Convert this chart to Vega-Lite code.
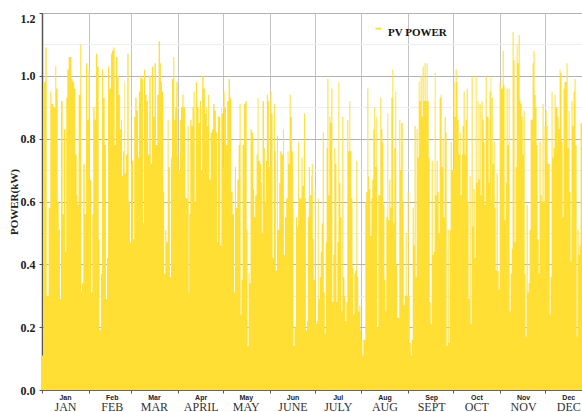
{
"$schema":"https://vega.github.io/schema/vega-lite/v6.json",
"width":550,"height":377,
"padding":{"left":8,"top":12,"right":0,"bottom":0},
"autosize":{"type":"pad"},
"config":{"view":{"stroke":"#8a8a8a","strokeWidth":1},"background":"#ffffff"},
"data":{"values":[
{"d":0,"p":0.11},{"d":1.1,"p":0.98},{"d":2.2,"p":1.09},{"d":3.1,"p":0.30},{"d":4.4,"p":0.58},{"d":5.5,"p":0.95},{"d":6.2,"p":0.91},{"d":7.5,"p":0.90},{"d":8.8,"p":1.03},{"d":9.5,"p":0.96},{"d":10.4,"p":0.60},{"d":11.1,"p":0.51},{"d":11.9,"p":0.29},{"d":12.6,"p":0.92},{"d":13.7,"p":0.56},{"d":14.6,"p":0.83},{"d":15.5,"p":0.44},{"d":16.1,"p":0.93},{"d":16.8,"p":1.02},{"d":17.7,"p":1.06},{"d":18.8,"p":1.06},{"d":19.5,"p":0.99},{"d":20.3,"p":0.98},{"d":21.4,"p":0.96},{"d":22.1,"p":0.75},{"d":23.0,"p":0.62},{"d":23.6,"p":0.59},{"d":24.3,"p":0.94},{"d":25.4,"p":1.10},{"d":26.1,"p":0.31},{"d":26.5,"p":0.34},{"d":27.4,"p":0.72},{"d":28.3,"p":0.56},{"d":29.2,"p":1.04},{"d":30.1,"p":0.86},{"d":30.9,"p":1.02},{"d":31.8,"p":0.67},{"d":32.7,"p":0.31},{"d":33.4,"p":0.56},{"d":34.0,"p":0.90},{"d":34.9,"p":0.86},{"d":35.8,"p":1.07},{"d":36.7,"p":1.03},{"d":37.6,"p":0.48},{"d":38.2,"p":0.19},{"d":39.1,"p":0.37},{"d":39.8,"p":1.02},{"d":40.5,"p":0.93},{"d":41.6,"p":0.78},{"d":42.4,"p":0.29},{"d":43.1,"p":0.42},{"d":43.8,"p":1.03},{"d":44.7,"p":0.96},{"d":45.8,"p":1.07},{"d":46.4,"p":1.08},{"d":47.3,"p":1.09},{"d":48.2,"p":0.78},{"d":48.9,"p":1.06},{"d":50.0,"p":1.00},{"d":50.8,"p":0.94},{"d":51.7,"p":0.83},{"d":52.4,"p":0.86},{"d":53.1,"p":0.68},{"d":53.7,"p":0.76},{"d":54.4,"p":0.98},{"d":54.8,"p":0.69},{"d":55.7,"p":0.75},{"d":56.6,"p":1.07},{"d":57.5,"p":0.60},{"d":58.4,"p":0.47},{"d":59.2,"p":0.72},
{"d":59.7,"p":0.73},{"d":60.4,"p":0.48},{"d":61.2,"p":0.87},{"d":61.9,"p":0.93},{"d":62.8,"p":0.89},{"d":63.7,"p":0.74},{"d":64.3,"p":0.95},{"d":65.2,"p":1.00},{"d":66.1,"p":0.99},{"d":67.0,"p":0.53},{"d":67.7,"p":1.02},{"d":68.5,"p":0.94},{"d":69.4,"p":0.92},{"d":70.3,"p":0.75},{"d":71.2,"p":1.00},{"d":72.1,"p":0.72},{"d":73.0,"p":1.03},{"d":73.9,"p":0.87},{"d":74.7,"p":1.04},{"d":75.6,"p":0.78},{"d":76.5,"p":0.94},{"d":77.4,"p":1.11},{"d":78.3,"p":1.04},{"d":78.9,"p":0.98},{"d":79.6,"p":0.95},{"d":80.5,"p":0.63},{"d":81.1,"p":0.37},{"d":81.8,"p":0.51},{"d":82.5,"p":0.47},{"d":83.4,"p":0.86},{"d":84.0,"p":0.71},{"d":84.9,"p":0.36},{"d":85.6,"p":0.74},{"d":86.2,"p":0.99},{"d":87.1,"p":1.06},{"d":87.8,"p":0.86},{"d":88.4,"p":0.90},{"d":89.1,"p":0.98},{"d":90.0,"p":0.75},{"d":90.6,"p":0.70},{"d":91.5,"p":0.86},{"d":92.2,"p":0.90},{"d":93.1,"p":0.94},{"d":93.9,"p":0.90},{"d":95.1,"p":0.61},{"d":95.7,"p":0.61},{"d":96.6,"p":0.84},{"d":97.3,"p":0.31},{"d":97.7,"p":0.56},{"d":98.4,"p":0.86},{"d":99.3,"p":0.84},{"d":99.9,"p":0.90},{"d":100.6,"p":0.95},{"d":101.3,"p":0.60},{"d":102.1,"p":0.98},{"d":103.0,"p":0.90},{"d":103.9,"p":0.85},{"d":104.8,"p":0.92},{"d":105.5,"p":0.70},{"d":106.3,"p":1.00},{"d":107.2,"p":0.96},{"d":108.1,"p":0.88},{"d":108.8,"p":0.90},{"d":109.4,"p":0.84},{"d":110.3,"p":0.94},{"d":111.0,"p":0.67},{"d":111.9,"p":0.82},{"d":112.8,"p":0.83},{"d":113.6,"p":0.91},{"d":114.5,"p":0.89},{"d":115.4,"p":0.82},{"d":116.1,"p":0.47},{"d":116.7,"p":0.87},{"d":117.6,"p":0.87},{"d":118.3,"p":0.46},{"d":119.0,"p":0.90},
{"d":119.4,"p":0.88},{"d":120.1,"p":0.71},{"d":120.5,"p":0.95},{"d":121.2,"p":0.90},{"d":122.1,"p":0.78},{"d":122.9,"p":0.92},{"d":123.8,"p":0.99},{"d":124.7,"p":0.93},{"d":125.6,"p":0.63},{"d":126.5,"p":0.56},{"d":127.4,"p":0.31},{"d":128.0,"p":0.71},{"d":128.7,"p":0.58},{"d":129.6,"p":0.67},{"d":130.5,"p":0.78},{"d":131.1,"p":0.91},{"d":131.8,"p":0.24},{"d":132.4,"p":0.35},{"d":133.1,"p":0.78},{"d":134.0,"p":0.91},{"d":134.9,"p":0.92},{"d":135.8,"p":0.51},{"d":136.4,"p":0.14},{"d":137.1,"p":0.37},{"d":137.7,"p":0.34},{"d":138.4,"p":0.83},{"d":139.3,"p":0.82},{"d":140.2,"p":0.64},{"d":140.8,"p":0.55},{"d":141.5,"p":0.62},{"d":142.4,"p":0.75},{"d":143.1,"p":0.93},{"d":143.7,"p":0.73},{"d":144.6,"p":0.72},{"d":145.3,"p":0.66},{"d":145.9,"p":0.50},{"d":146.4,"p":0.92},{"d":147.3,"p":0.77},{"d":147.9,"p":0.60},{"d":148.6,"p":0.73},{"d":149.2,"p":0.94},{"d":149.9,"p":0.92},{"d":150.6,"p":0.71},{"d":151.5,"p":0.95},{"d":152.3,"p":0.88},{"d":153.0,"p":0.42},{"d":153.9,"p":0.91},{"d":154.5,"p":0.76},{"d":155.2,"p":0.38},{"d":155.9,"p":0.81},{"d":156.5,"p":0.51},{"d":157.4,"p":0.66},{"d":158.1,"p":0.76},{"d":159.0,"p":0.75},{"d":159.9,"p":0.83},{"d":160.5,"p":0.43},{"d":161.2,"p":0.55},{"d":162.1,"p":0.61},{"d":163.0,"p":0.76},{"d":163.6,"p":0.72},{"d":164.3,"p":0.94},{"d":165.0,"p":0.87},{"d":165.8,"p":0.76},{"d":166.5,"p":0.58},{"d":166.9,"p":0.14},{"d":167.6,"p":0.20},{"d":168.5,"p":0.55},{"d":169.4,"p":0.52},{"d":170.0,"p":0.79},{"d":170.7,"p":0.61},{"d":171.6,"p":0.61},{"d":172.2,"p":0.74},{"d":172.9,"p":0.65},{"d":173.8,"p":0.88},{"d":174.5,"p":0.61},{"d":175.1,"p":0.19},{"d":175.8,"p":0.22},{"d":176.4,"p":0.55},{"d":177.1,"p":0.71},{"d":177.8,"p":0.62},{"d":178.7,"p":0.68},
{"d":179.0,"p":0.72},{"d":179.7,"p":0.48},{"d":180.3,"p":0.35},{"d":181.0,"p":0.64},{"d":181.7,"p":0.21},{"d":182.3,"p":0.22},{"d":183.0,"p":0.61},{"d":183.6,"p":0.29},{"d":184.3,"p":0.36},{"d":185.0,"p":0.44},{"d":185.6,"p":0.53},{"d":186.3,"p":0.82},{"d":187.0,"p":0.31},{"d":187.6,"p":0.18},{"d":188.3,"p":0.47},{"d":188.9,"p":0.77},{"d":189.4,"p":0.99},{"d":190.1,"p":0.62},{"d":190.7,"p":0.87},{"d":191.4,"p":0.85},{"d":192.0,"p":0.96},{"d":192.7,"p":0.28},{"d":193.4,"p":0.43},{"d":194.0,"p":0.77},{"d":194.7,"p":0.72},{"d":195.4,"p":0.28},{"d":196.0,"p":0.47},{"d":196.7,"p":0.98},{"d":197.3,"p":0.66},{"d":198.0,"p":0.55},{"d":198.7,"p":0.25},{"d":199.3,"p":0.87},{"d":200.0,"p":0.36},{"d":200.7,"p":0.30},{"d":201.3,"p":0.22},{"d":202.0,"p":0.28},{"d":202.6,"p":0.86},{"d":203.3,"p":0.76},{"d":204.0,"p":0.92},{"d":204.6,"p":0.76},{"d":205.3,"p":0.61},{"d":206.0,"p":0.39},{"d":206.6,"p":0.24},{"d":207.3,"p":0.37},{"d":207.9,"p":0.38},{"d":208.6,"p":0.73},{"d":209.3,"p":0.36},{"d":209.9,"p":0.25},{"d":210.6,"p":0.27},{"d":211.3,"p":0.19},{"d":211.9,"p":0.16},{"d":212.6,"p":0.11},{"d":213.3,"p":0.16},{"d":213.9,"p":0.16},{"d":214.6,"p":0.60},{"d":215.2,"p":0.63},{"d":215.9,"p":0.96},{"d":216.6,"p":0.68},{"d":217.2,"p":0.64},{"d":217.9,"p":0.49},{"d":218.6,"p":0.61},{"d":219.2,"p":0.67},{"d":219.9,"p":0.83},{"d":220.5,"p":0.90},{"d":221.2,"p":0.71},{"d":221.9,"p":0.87},{"d":222.5,"p":0.20},{"d":223.2,"p":0.62},{"d":223.9,"p":0.62},{"d":224.5,"p":0.93},{"d":225.2,"p":0.83},{"d":225.9,"p":0.79},{"d":226.5,"p":0.59},{"d":227.2,"p":0.35},{"d":227.8,"p":0.25},{"d":228.5,"p":0.55},{"d":229.2,"p":0.88},{"d":229.8,"p":0.54},{"d":230.5,"p":0.67},{"d":231.2,"p":0.58},{"d":231.8,"p":0.93},{"d":232.5,"p":1.02},{"d":233.1,"p":0.53},{"d":233.8,"p":0.77},{"d":234.5,"p":0.95},{"d":235.1,"p":0.40},{"d":235.8,"p":0.23},{"d":236.5,"p":0.23},{"d":237.1,"p":0.86},{"d":237.8,"p":0.70},{"d":238.4,"p":0.85},
{"d":238.7,"p":0.85},{"d":239.4,"p":0.60},{"d":240.0,"p":0.27},{"d":240.7,"p":0.30},{"d":241.4,"p":0.50},{"d":242.0,"p":0.30},{"d":242.7,"p":0.63},{"d":243.3,"p":0.30},{"d":244.0,"p":0.15},{"d":244.7,"p":0.11},{"d":245.3,"p":0.16},{"d":246.0,"p":0.58},{"d":246.7,"p":0.46},{"d":247.3,"p":0.84},{"d":248.0,"p":0.36},{"d":248.6,"p":0.83},{"d":249.3,"p":0.74},{"d":250.0,"p":0.98},{"d":250.6,"p":0.92},{"d":251.3,"p":1.00},{"d":252.0,"p":0.87},{"d":252.6,"p":1.03},{"d":253.3,"p":0.92},{"d":253.9,"p":1.04},{"d":254.6,"p":0.92},{"d":255.3,"p":1.04},{"d":255.9,"p":0.92},{"d":256.6,"p":0.74},{"d":257.3,"p":0.28},{"d":257.9,"p":0.21},{"d":258.6,"p":0.73},{"d":259.3,"p":0.43},{"d":259.9,"p":0.44},{"d":260.6,"p":1.01},{"d":261.2,"p":0.62},{"d":261.9,"p":0.73},{"d":262.6,"p":0.63},{"d":263.2,"p":0.50},{"d":263.9,"p":0.93},{"d":264.6,"p":0.94},{"d":265.2,"p":0.71},{"d":265.9,"p":0.80},{"d":266.5,"p":0.55},{"d":267.2,"p":0.87},{"d":267.9,"p":0.82},{"d":268.5,"p":0.14},{"d":269.2,"p":0.51},{"d":269.9,"p":0.15},{"d":270.5,"p":0.51},{"d":271.2,"p":0.79},{"d":271.9,"p":0.70},{"d":272.5,"p":0.70},{"d":273.2,"p":0.98},{"d":273.8,"p":0.87},{"d":274.5,"p":1.02},{"d":275.2,"p":0.98},{"d":275.8,"p":0.86},{"d":276.5,"p":0.75},{"d":277.2,"p":0.82},{"d":277.8,"p":0.62},{"d":278.5,"p":0.75},{"d":279.1,"p":0.84},{"d":279.8,"p":0.95},{"d":280.5,"p":0.75},{"d":281.1,"p":0.86},{"d":281.8,"p":0.96},{"d":282.5,"p":0.60},{"d":283.1,"p":0.29},{"d":283.8,"p":0.68},{"d":284.4,"p":0.21},{"d":285.1,"p":1.00},{"d":285.8,"p":0.52},{"d":286.4,"p":0.64},{"d":287.1,"p":0.42},{"d":287.8,"p":1.00},{"d":288.4,"p":0.66},{"d":289.1,"p":0.92},{"d":289.7,"p":0.67},{"d":290.4,"p":0.91},{"d":291.1,"p":0.62},{"d":291.7,"p":0.92},{"d":292.4,"p":0.86},{"d":293.1,"p":0.79},{"d":293.7,"p":0.59},{"d":294.4,"p":1.00},{"d":295.1,"p":0.87},{"d":295.7,"p":0.87},{"d":296.4,"p":0.66},{"d":297.0,"p":0.95},{"d":297.7,"p":1.00},{"d":298.2,"p":0.60},
{"d":298.4,"p":0.93},{"d":299.1,"p":0.72},{"d":299.7,"p":0.79},{"d":300.4,"p":0.58},{"d":301.1,"p":0.38},{"d":301.7,"p":0.69},{"d":302.4,"p":0.38},{"d":303.0,"p":0.32},{"d":303.7,"p":0.98},{"d":304.4,"p":0.96},{"d":305.0,"p":0.96},{"d":305.7,"p":1.08},{"d":306.4,"p":0.97},{"d":307.0,"p":0.54},{"d":307.7,"p":0.66},{"d":308.3,"p":0.96},{"d":309.0,"p":0.78},{"d":309.7,"p":0.96},{"d":310.3,"p":0.25},{"d":311.0,"p":0.37},{"d":311.7,"p":0.45},{"d":312.3,"p":1.14},{"d":313.0,"p":1.05},{"d":313.6,"p":0.47},{"d":314.3,"p":0.71},{"d":315.0,"p":1.10},{"d":315.6,"p":1.04},{"d":316.3,"p":1.13},{"d":317.0,"p":0.92},{"d":317.6,"p":0.91},{"d":318.3,"p":0.87},{"d":319.0,"p":0.75},{"d":319.6,"p":0.89},{"d":320.3,"p":0.37},{"d":320.9,"p":0.17},{"d":321.6,"p":0.59},{"d":322.3,"p":0.31},{"d":322.9,"p":0.34},{"d":323.6,"p":0.51},{"d":324.3,"p":0.86},{"d":324.9,"p":0.86},{"d":325.6,"p":1.04},{"d":326.2,"p":1.08},{"d":326.9,"p":0.94},{"d":327.6,"p":0.90},{"d":328.2,"p":0.78},{"d":328.9,"p":0.48},{"d":329.6,"p":0.37},{"d":330.2,"p":0.79},{"d":330.9,"p":0.62},{"d":331.6,"p":0.60},{"d":332.2,"p":0.91},{"d":332.9,"p":0.60},{"d":333.5,"p":0.84},{"d":334.2,"p":0.89},{"d":334.9,"p":0.84},{"d":335.5,"p":0.72},{"d":336.2,"p":0.72},{"d":336.9,"p":0.24},{"d":337.5,"p":0.36},{"d":338.2,"p":0.95},{"d":338.8,"p":0.74},{"d":339.5,"p":0.77},{"d":340.2,"p":0.94},{"d":340.8,"p":0.90},{"d":341.5,"p":0.90},{"d":342.2,"p":0.87},{"d":342.8,"p":0.83},{"d":343.5,"p":1.02},{"d":344.1,"p":1.01},{"d":344.8,"p":0.79},{"d":345.5,"p":0.55},{"d":346.1,"p":0.96},{"d":346.8,"p":0.98},{"d":347.5,"p":0.98},{"d":348.1,"p":1.04},{"d":348.8,"p":0.77},{"d":349.5,"p":0.89},{"d":350.1,"p":0.63},{"d":350.8,"p":0.41},{"d":351.4,"p":0.92},{"d":352.1,"p":0.84},{"d":352.8,"p":0.95},{"d":353.4,"p":0.99},{"d":354.1,"p":0.78},{"d":354.8,"p":0.17},{"d":355.4,"p":0.51},{"d":356.1,"p":0.43},{"d":356.7,"p":0.46},{"d":357.4,"p":0.85},{"d":358.1,"p":0.85},{"d":360.0,"p":0.70},{"d":362.0,"p":0.90},{"d":364.0,"p":0.80},{"d":365.0,"p":0.80}
]},
"layer":[
{"mark":{"type":"area","interpolate":"step-after","opacity":1},
 "encoding":{
  "x":{"field":"d","type":"quantitative","scale":{"domain":[0,365],"nice":false,"zero":false},
   "axis":{"orient":"bottom","values":[0,31,59,90,120,151,181,212,243,273,304,334],"labelExpr":"timeFormat(datetime(2019,0,datum.value+1),'%b')","labelOffset":23,"labelFont":"Liberation Sans","labelFontWeight":"bold","labelFontSize":7,"labelColor":"#222","tickSize":3,"tickColor":"#555","domainColor":"#666","labelPadding":0,"grid":true,"gridColor":"#c4c4c4","gridWidth":1,"title":null,"labelFlush":false,"labelOverlap":false,"labelBound":false}},
  "y":{"field":"p","type":"quantitative","scale":{"domain":[0,1.2],"nice":false},"title":"POWER(kW)",
   "axis":{"values":[0,0.1,0.2,0.3,0.4,0.5,0.6,0.7,0.8,0.9,1.0,1.1,1.2],
    "labelExpr":"round(datum.value*10)%2==0 ? format(datum.value,'.1f') : ''",
    "gridColor":{"condition":{"test":"round(datum.value*10)%2==1","value":"#ededed"},"value":"#b3b3b3"},
    "tickOpacity":{"condition":{"test":"round(datum.value*10)%2==1","value":0},"value":1},
    "labelBaseline":{"condition":{"test":"datum.value>1.15","value":"top"},"value":"middle"},
    "tickSize":3,"tickColor":"#555","domainColor":"#555","domainWidth":1.5,
    "labelFont":"Liberation Serif","labelFontWeight":"bold","labelFontSize":12,"labelColor":"#222","labelPadding":4,
    "titleFont":"Liberation Serif","titleFontWeight":"bold","titleFontSize":11,"titleColor":"#222","titlePadding":1,"labelOverlap":false}},
  "color":{"datum":"PV POWER","scale":{"range":["#FFDF33"]},
   "legend":{"orient":"none","legendX":331,"legendY":14,"title":null,"padding":0,"labelFont":"Liberation Serif","labelFontWeight":"bold","labelFontSize":11,"labelColor":"#111","symbolType":"M-1,-1.3L1,-1.3","symbolSize":36,"symbolStrokeWidth":2,"symbolStrokeColor":"#FFDF33","labelOffset":4}}
 }},
{"mark":{"type":"rule","opacity":0},
 "encoding":{
  "x":{"field":"d","type":"quantitative",
   "axis":{"orient":"bottom","values":[0,31,59,90,120,151,181,212,243,273,304,334],"labelExpr":"['JAN','FEB','MAR','APRIL','MAY','JUNE','JULY','AUG','SEPT','OCT','NOV','DEC'][month(datetime(2019,0,datum.value+1))]","labelOffset":23,"offset":11,"domain":false,"ticks":false,"grid":false,"labelFont":"Liberation Serif","labelFontSize":12,"labelColor":"#333","labelPadding":0,"title":null,"labelFlush":false,"labelOverlap":false,"labelBound":false}}
 }}
],
"resolve":{"axis":{"x":"independent"}}
}
